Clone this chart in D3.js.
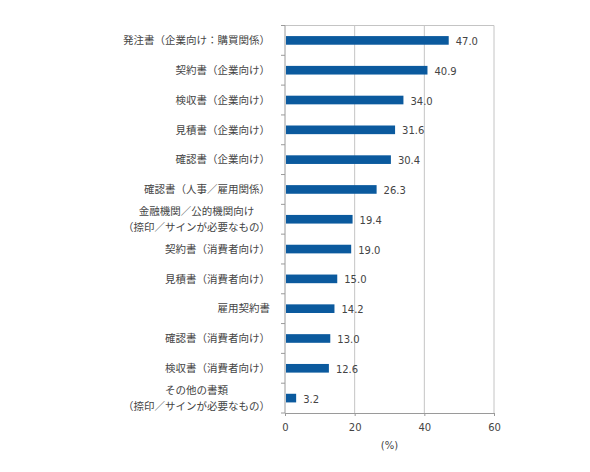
<!DOCTYPE html>
<html>
<head>
<meta charset="utf-8">
<script src="https://cdn.jsdelivr.net/npm/d3@7"></script>
<style>
  body { margin: 0; background: #fff; }
  svg { display: block; }
</style>
</head>
<body>
<svg id="chart" width="590" height="472"></svg>
<script>
// categories (multi-line labels split by \n)
var categories = [
  "発注書（企業向け：購買関係）",
  "契約書（企業向け）",
  "検収書（企業向け）",
  "見積書（企業向け）",
  "確認書（企業向け）",
  "確認書（人事／雇用関係）",
  "金融機関／公的機関向け\n（捺印／サインが必要なもの）",
  "契約書（消費者向け）",
  "見積書（消費者向け）",
  "雇用契約書",
  "確認書（消費者向け）",
  "検収書（消費者向け）",
  "その他の書類\n（捺印／サインが必要なもの）"
];
var values = [47.0, 40.9, 34.0, 31.6, 30.4, 26.3, 19.4, 19.0, 15.0, 14.2, 13.0, 12.6, 3.2];
var xTicks = [0, 20, 40, 60];
var axisTitle = "(%)";

var data = categories.map(function(c, i){ return {label: c, value: values[i]}; });

var margin = {top: 25.5, left: 285, right: 96, bottom: 59};
var width = 590 - margin.left - margin.right;
var height = 472 - margin.top - margin.bottom;

var svg = d3.select('#chart');
var chart = svg.append('g')
  .attr('transform', 'translate(' + margin.left + ',' + margin.top + ')');

var xscale = d3.scaleLinear().domain([0, 60]).range([0, width]);
var yscale = d3.scaleBand()
  .domain(categories)
  .range([0, height])
  .paddingInner(0.71)
  .paddingOuter(0.355);

var gridColor = '#c4c4c4';
var axisColor = '#9a9a9a';
var textColor = '#444';

// grid lines + frame
chart.selectAll('.grid')
  .data(xTicks.slice(1))
  .enter()
  .append('line')
  .attr('class', 'grid')
  .attr('x1', function(d){ return xscale(d); })
  .attr('x2', function(d){ return xscale(d); })
  .attr('y1', 0)
  .attr('y2', height)
  .style('stroke', gridColor)
  .style('stroke-width', 1);

chart.append('line')
  .attr('x1', 0).attr('x2', width)
  .attr('y1', 0).attr('y2', 0)
  .style('stroke', gridColor);

// bars
chart.selectAll('.bar')
  .data(data)
  .enter()
  .append('rect')
  .attr('class', 'bar')
  .attr('x', xscale(0) + 1)
  .attr('y', function(d){ return yscale(d.label); })
  .attr('width', function(d){ return xscale(d.value) - xscale(0) - 1; })
  .attr('height', yscale.bandwidth())
  .style('fill', '#0b5a9e');

// value labels
chart.selectAll('.val')
  .data(data)
  .enter()
  .append('text')
  .attr('class', 'val')
  .attr('x', function(d){ return xscale(d.value) + 7; })
  .attr('y', function(d){ return yscale(d.label) + yscale.bandwidth() / 2 + 1; })
  .attr('dy', '0.35em')
  .style('font-family', 'DejaVu Sans')
  .style('font-size', '10px')
  .style('fill', textColor)
  .text(function(d){ return d.value.toFixed(1); });

// x axis
var xAxis = chart.append('g')
  .attr('transform', 'translate(0,' + height + ')')
  .call(d3.axisBottom(xscale).tickValues(xTicks).tickSize(3).tickSizeOuter(0).tickPadding(8));
xAxis.select('.domain').style('stroke', axisColor);
xAxis.selectAll('line').style('stroke', axisColor);
xAxis.selectAll('text')
  .style('font-family', 'DejaVu Sans')
  .style('font-size', '10px')
  .style('fill', textColor);

chart.append('text')
  .attr('x', xscale(30))
  .attr('y', height + 36)
  .attr('text-anchor', 'middle')
  .style('font-family', 'DejaVu Sans')
  .style('font-size', '10px')
  .style('fill', textColor)
  .text(axisTitle);

// y axis: ticks between categories
var step = yscale.step();
var boundaries = d3.range(categories.length + 1).map(function(i){ return i * step; });
chart.append('line')
  .attr('x1', 0).attr('x2', 0)
  .attr('y1', 0).attr('y2', height)
  .style('stroke', axisColor);
chart.selectAll('.ytick')
  .data(boundaries)
  .enter()
  .append('line')
  .attr('class', 'ytick')
  .attr('x1', -4).attr('x2', 0)
  .attr('y1', function(d){ return d; })
  .attr('y2', function(d){ return d; })
  .style('stroke', axisColor);

// category labels, right-aligned block, lines centred inside block
var labelRight = -15;
var lineH = 15.5;
var labels = chart.selectAll('.cat')
  .data(data)
  .enter()
  .append('g')
  .attr('class', 'cat')
  .attr('transform', function(d){
    return 'translate(0,' + (yscale(d.label) + yscale.bandwidth() / 2) + ')';
  });

labels.each(function(d){
  var g = d3.select(this);
  var lines = d.label.split('\n');
  var texts = g.selectAll('text')
    .data(lines)
    .enter()
    .append('text')
    .attr('y', function(l, i){ return (i - (lines.length - 1) / 2) * lineH; })
    .attr('dy', '0.35em')
    .attr('text-anchor', 'middle')
    .style('font-family', '"Noto Sans CJK JP"')
    .style('font-size', '10.5px')
    .style('fill', textColor)
    .text(function(l){ return l; });
  var maxW = 0;
  texts.each(function(){ maxW = Math.max(maxW, this.getComputedTextLength()); });
  texts.attr('x', labelRight - maxW / 2);
});
</script>
</body>
</html>
